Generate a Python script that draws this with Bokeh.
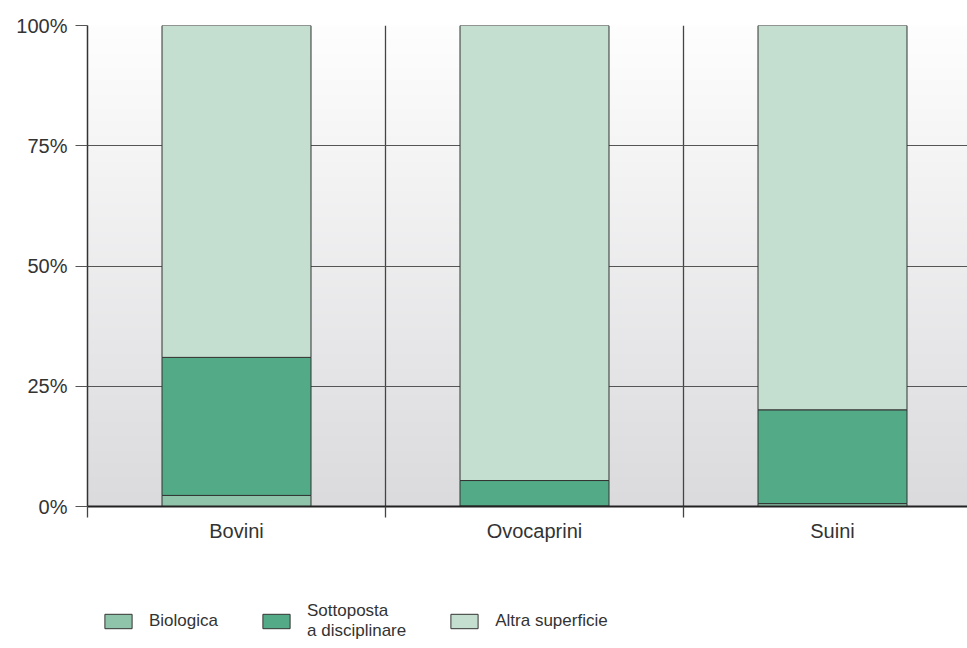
import numpy as np
from bokeh.plotting import figure
from bokeh.layouts import column
from bokeh.models import (Range1d, FixedTicker, Legend, LegendItem, ColumnDataSource)
from bokeh.embed import file_html
from bokeh.resources import INLINE

categories = ["Bovini", "Ovocaprini", "Suini"]
series = ["Biologica", "Sottoposta a disciplinare", "Altra superficie"]
legend_labels = ["Biologica", "Sottoposta\na disciplinare", "Altra superficie"]
biologica = [2.3, 0.1, 0.6]
sottoposta = [28.7, 5.3, 19.5]
altra = [69.0, 94.6, 79.9]
colors = ["#8fc4aa", "#53aa87", "#c4decf"]
y_ticks = [0, 25, 50, 75, 100]
y_tick_labels = ["0%", "25%", "50%", "75%", "100%"]

FONT = "Liberation Sans"
TXT = "#333333"

x_centers = [i + 0.5 for i in range(len(categories))]
boundaries = [float(i) for i in range(len(categories) + 1)]

src = ColumnDataSource(dict(x=x_centers, b=biologica, s=sottoposta, a=altra))

x_end = 880 / 298.0
p = figure(width=967, height=546, output_backend="svg", toolbar_location=None,
           x_range=Range1d(0, x_end), y_range=Range1d(0, 100),
           min_border_left=87, min_border_top=25, min_border_right=0,
           min_border_bottom=40)
p.outline_line_color = None
p.background_fill_color = "white"
p.border_fill_color = "white"

# background vertical gradient
n = 200
t = np.linspace(0, 1, n)  # 0 bottom -> 1 top
top = np.array([254, 254, 254]); bot = np.array([219, 219, 222])
cols = (bot[None, :] * (1 - t[:, None]) + top[None, :] * t[:, None]).astype(np.uint32)
img = np.empty((n, 1), dtype=np.uint32)
view = img.view(dtype=np.uint8).reshape((n, 1, 4))
view[:, 0, 0] = cols[:, 0]; view[:, 0, 1] = cols[:, 1]; view[:, 0, 2] = cols[:, 2]; view[:, 0, 3] = 255
p.image_rgba(image=[img], x=0, y=0, dw=x_end, dh=100, level="image")

rs = p.vbar_stack(["b", "s", "a"], x="x", width=0.5, source=src, color=colors,
                  line_color="#333333", line_width=1)

# grids
p.ygrid.ticker = FixedTicker(ticks=y_ticks)
p.ygrid.grid_line_color = "#555555"
p.ygrid.grid_line_width = 1
p.xgrid.ticker = FixedTicker(ticks=boundaries)
p.xgrid.grid_line_color = "#444444"
p.xgrid.grid_line_width = 1.3

# y axis
ya = p.yaxis[0]
ya.ticker = FixedTicker(ticks=y_ticks)
ya.major_label_overrides = {v: l for v, l in zip(y_ticks, y_tick_labels)}
ya.axis_line_color = "#333333"
ya.axis_line_width = 1.5
ya.major_tick_out = 12
ya.major_tick_in = 0
ya.major_tick_line_color = "#555555"
ya.minor_tick_line_color = None
ya.major_label_standoff = 8
ya.major_label_text_font = FONT
ya.major_label_text_font_size = "20px"
ya.major_label_text_color = TXT

# x axis
xa = p.xaxis[0]
xa.ticker = FixedTicker(ticks=x_centers, minor_ticks=boundaries)
xa.major_label_overrides = {c: l for c, l in zip(x_centers, categories)}
xa.axis_line_color = "#222222"
xa.axis_line_width = 2
xa.major_tick_out = 0
xa.major_tick_in = 0
xa.minor_tick_out = 11
xa.minor_tick_in = 0
xa.minor_tick_line_color = "#444444"
xa.minor_tick_line_width = 1.3
xa.major_label_standoff = 2
xa.major_label_text_font = FONT
xa.major_label_text_font_size = "20px"
xa.major_label_text_color = TXT

# legend in a separate strip below the chart
lg = figure(width=967, height=102, output_backend="svg", toolbar_location=None,
            x_axis_type=None, y_axis_type=None, min_border=0,
            x_range=Range1d(0, 1), y_range=Range1d(0, 1))
lg.outline_line_color = None
lg.grid.visible = False
lg.background_fill_color = "white"
lg.border_fill_color = "white"
# swatch renderers for the legend (their bars lie outside the strip's visible range)
dummies = [lg.vbar(x=[10], top=[1], width=0.1, fill_color=colors[i],
                   line_color="#333333", line_width=1) for i in range(3)]
items = [LegendItem(label=legend_labels[i], renderers=[dummies[i]]) for i in range(3)]
legend = Legend(items=items, orientation="horizontal", location=(14, 7),
                glyph_width=34, glyph_height=18, label_standoff=14, spacing=41,
                padding=0, margin=0, border_line_color=None,
                background_fill_alpha=0,
                label_text_font=FONT, label_text_font_size="17px",
                label_text_line_height=1.35,
                label_text_color=TXT, label_height=18)
lg.add_layout(legend, "center")

layout = column(p, lg, spacing=0)
open("out.html", "w").write(file_html(layout, INLINE))
